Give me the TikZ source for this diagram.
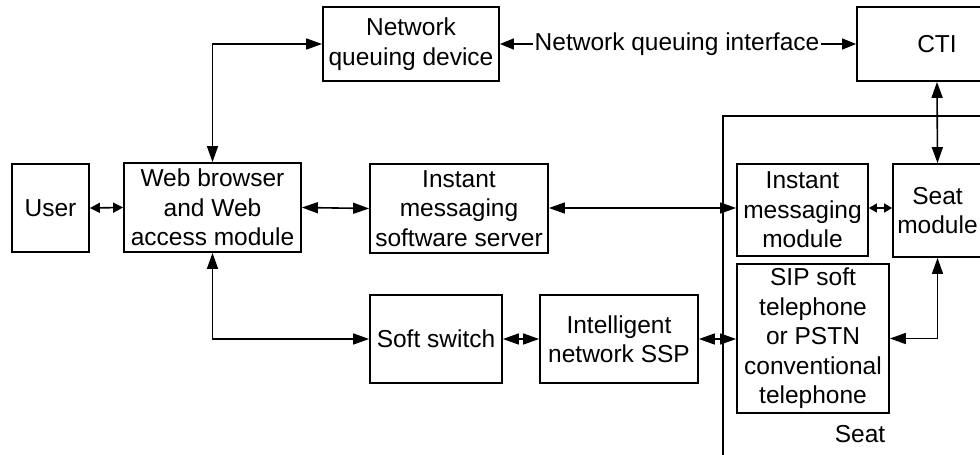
\documentclass[tikz,border=0pt]{standalone}
\usepackage{fontspec}
\setmainfont{Liberation Sans}
\usetikzlibrary{arrows.meta}
\begin{document}
\begin{tikzpicture}[x=1pt,y=-1pt,
  blk/.style={draw,line width=1.8pt,align=center,inner sep=0pt,
    font=\fontsize{24.5}{29.5}\selectfont},
  lbl/.style={inner sep=1pt,font=\fontsize{24.5}{29.5}\selectfont},
  conn/.style={line width=1.6pt,{Triangle[length=16pt,width=11pt]}-{Triangle[length=16pt,width=11pt]}},
  sconn/.style={line width=1.6pt,{Triangle[length=10pt,width=10pt]}-{Triangle[length=10pt,width=10pt]}},
  tconn/.style={line width=1.6pt,{Triangle[length=8pt,width=9pt]}-{Triangle[length=8pt,width=9pt]}},
  larr/.style={line width=1.6pt,-{Triangle[length=14pt,width=11pt]}}]
\useasboundingbox (0,0) rectangle (980,455);
\clip (0,0) rectangle (980,455);
\fill[white] (0,0) rectangle (980,455);
% outer seat box
\draw[line width=1.8pt] (723,500) -- (723,116) -- (1100,116);
\node[lbl] (seatlbl) at (860,434) {Seat};
% boxes
\node[blk,minimum width=77,minimum height=88] (user) at (50.5,208) {User};
\node[blk,minimum width=177,minimum height=89] (web) at (212.5,207.5) {Web browser\\and Web\\access module};
\node[blk,minimum width=178,minimum height=89] (ims) at (459,208.5) {Instant\\messaging\\software server};
\node[blk,minimum width=176,minimum height=74] (nqd) at (411,44) {Network\\queuing device};
\node[blk,minimum width=160,minimum height=74] (cti) at (937,44) {CTI};
\node[blk,minimum width=131,minimum height=92] (imm) at (802.5,210) {Instant\\messaging\\module};
\node[blk,minimum width=89,minimum height=93] (seatm) at (937.5,210.5) {Seat\\module};
\node[blk,minimum width=152,minimum height=149] (sip) at (813,338.5) {SIP soft\\telephone\\or PSTN\\conventional\\telephone};
\node[blk,minimum width=132,minimum height=88] (soft) at (436,339) {Soft switch};
\node[blk,minimum width=158,minimum height=88] (ssp) at (619,339) {Intelligent\\network SSP};
\node[lbl] (nqi) at (677,44) {Network queuing interface};
% connectors
\draw[sconn] (user.east) -- (web.west);
\draw[conn] (web.east) -- (ims.west);
\draw[conn] (ims.east |- 0,208) -- (imm.west |- 0,208);
\draw[tconn] (imm.east |- 0,208) -- (seatm.west |- 0,208);
\draw[conn] (web.north) |- (nqd.west);
\draw[conn] (web.south) |- (soft.west);
\draw[larr] (nqi.west) -- (nqd.east);
\draw[larr] (nqi.east) -- (cti.west);
\draw[conn] (cti.south) -- (seatm.north);
\draw[conn] (soft.east) -- (ssp.west);
\draw[conn] (ssp.east) -- (sip.west |- ssp.east);
\draw[conn] (seatm.south) |- (sip.east);
\end{tikzpicture}
\end{document}
